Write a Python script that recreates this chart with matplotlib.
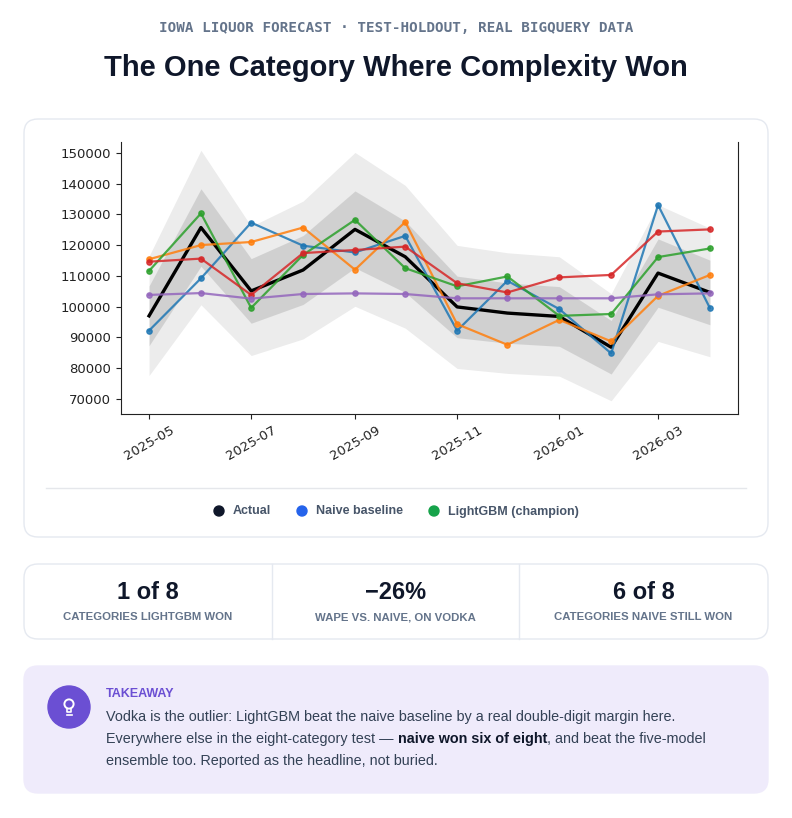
"""Iowa liquor forecast: vodka test-holdout chart."""

import matplotlib.pyplot as plt
import matplotlib.dates as mdates
import pandas as pd
from matplotlib.patches import FancyBboxPatch, Circle

months = ["2025-05", "2025-06", "2025-07", "2025-08", "2025-09", "2025-10",
          "2025-11", "2025-12", "2026-01", "2026-02", "2026-03", "2026-04"]

actual = [97000, 125700, 105100, 111900, 125100, 116200,
          99900, 97900, 96800, 86800, 110900, 104600]
naive = [92200, 109200, 127300, 119800, 117600, 123000,
         92200, 108400, 99200, 84800, 133000, 99500]
orange_model = [115400, 120000, 121000, 125700, 112000, 127500,
                94300, 87600, 95700, 88700, 103500, 110300]
lightgbm = [111600, 130300, 99600, 116800, 128200, 112500,
            106600, 109800, 97000, 97600, 116100, 118900]
red_model = [114600, 115600, 103800, 117400, 118400, 119500,
             107600, 104600, 109500, 110300, 124400, 125100]
purple_model = [103800, 104400, 102600, 104100, 104300, 104100,
                102700, 102700, 102700, 102700, 104000, 104300]

# interval bands around actual
inner_lo = [87300, 113100, 94600, 100700, 112600, 104600,
            89900, 88100, 87100, 78100, 99800, 94100]
inner_hi = [106700, 138300, 115600, 123100, 137600, 127800,
            109900, 107700, 106500, 95500, 122000, 115100]
outer_lo = [77600, 100600, 84100, 89500, 100100, 93000,
            79900, 78300, 77400, 69400, 88700, 83700]
outer_hi = [116400, 150800, 126100, 134300, 150100, 139400,
            119900, 117500, 116200, 104200, 133100, 125500]

legend_labels = ["Actual", "Naive baseline", "LightGBM (champion)"]
legend_colors = ["#0f172a", "#2563eb", "#16a34a"]

stat_values = ["1 of 8", "\u221226%", "6 of 8"]
stat_labels = ["CATEGORIES LIGHTGBM WON", "WAPE VS. NAIVE, ON VODKA",
               "CATEGORIES NAIVE STILL WON"]

W, H = 792, 818
SANS = ["Liberation Sans", "DejaVu Sans"]
INK = "#0f172a"
MUTED = "#64748b"
PURPLE = "#6b4fd3"

fig = plt.figure(figsize=(W / 100, H / 100), dpi=100)
fig.patch.set_facecolor("white")

# page canvas in pixel coordinates
bg = fig.add_axes([0, 0, 1, 1], zorder=0)
bg.set_xlim(0, W)
bg.set_ylim(H, 0)
bg.axis("off")


def card(x0, y0, x1, y1, face="white", edge="#e5e9f0", r=14):
    bg.add_patch(FancyBboxPatch((x0, y0), x1 - x0, y1 - y0,
                                boxstyle=f"round,pad=0,rounding_size={r}",
                                facecolor=face, edgecolor=edge, lw=1))


bg.text(W / 2, 28.5, "IOWA LIQUOR FORECAST \u00b7 TEST-HOLDOUT, REAL BIGQUERY DATA",
        ha="center", va="center", fontsize=10.3, fontweight="bold",
        family="DejaVu Sans Mono", color=MUTED)
bg.text(W / 2, 67.5, "The One Category Where Complexity Won", ha="center",
        va="center", fontsize=21, fontweight="bold", family=SANS, color=INK)

# chart card
card(24, 119, 768, 537)
bg.plot([46, 746], [488, 488], color="#e5e7eb", lw=1)
for x, lab, col in zip([219, 302, 434], legend_labels, legend_colors):
    bg.add_patch(Circle((x, 511), 5, color=col))
    bg.text(x + 14, 511.5, lab, ha="left", va="center", fontsize=9,
            fontweight="bold", family=SANS, color="#475569")

# stats strip
card(24, 564, 768, 639)
for x in (272, 519):
    bg.plot([x, x], [564, 639], color="#e5e9f0", lw=1)
for cx, val, lab in zip([148, 395.5, 643.5], stat_values, stat_labels):
    bg.text(cx, 592.5, val, ha="center", va="center", fontsize=17,
            fontweight="bold", family=SANS, color=INK)
    bg.text(cx, 617, lab, ha="center", va="center", fontsize=8.2,
            fontweight="bold", family=SANS, color=MUTED)

# takeaway box
card(24, 666, 768, 793, face="#efebfb", edge="#efebfb")
bg.add_patch(Circle((69, 707), 21, color=PURPLE))
bg.add_patch(Circle((69, 704), 4.6, facecolor="none", edgecolor="white", lw=1.4))
bg.plot([67, 67, 71, 71], [708.5, 711.5, 711.5, 708.5], color="white", lw=1.2)
bg.plot([66.5, 71.5], [714.5, 714.5], color="white", lw=1.2)
bg.text(106, 694, "TAKEAWAY", ha="left", va="center", fontsize=9,
        fontweight="bold", family=SANS, color=PURPLE)
body = dict(fontsize=10.35, family=SANS, color="#334155")
bg.text(106, 717.5, "Vodka is the outlier: LightGBM beat the naive baseline by a "
        "real double-digit margin here.", ha="left", va="center", **body)
t1 = bg.text(106, 739, "Everywhere else in the eight-category test \u2014 ",
             ha="left", va="center", **body)
t2 = bg.annotate("naive won six of eight", xy=(1, 0), xycoords=t1,
                 ha="left", va="bottom", fontweight="bold",
                 fontsize=10.35, family=SANS, color=INK)
bg.annotate(", and beat the five-model", xy=(1, 0), xycoords=t2,
            ha="left", va="bottom", **body)
bg.text(106, 760.5, "ensemble too. Reported as the headline, not buried.",
        ha="left", va="center", **body)

# the chart itself
ax = fig.add_axes([121 / W, 1 - 414 / H, (738 - 121) / W, (414 - 142) / H],
                  zorder=1)
ax.set_facecolor("none")
dates = pd.to_datetime(months)

ax.fill_between(dates, outer_lo, outer_hi, color="gray", alpha=0.15, lw=0)
ax.fill_between(dates, inner_lo, inner_hi, color="gray", alpha=0.25, lw=0)
ax.plot(dates, actual, color="black", lw=2.4, zorder=3)
for series, col in [(naive, "tab:blue"), (orange_model, "tab:orange"),
                    (lightgbm, "tab:green"), (red_model, "tab:red"),
                    (purple_model, "tab:purple")]:
    ax.plot(dates, series, color=col, lw=1.6, marker="o", ms=3.8,
            alpha=0.85, zorder=4)

ax.set_ylim(65100, 153500)
ax.set_yticks(range(70000, 150001, 10000))
ax.xaxis.set_major_locator(mdates.MonthLocator(bymonth=[1, 3, 5, 7, 9, 11]))
ax.xaxis.set_major_formatter(mdates.DateFormatter("%Y-%m"))
ax.tick_params(labelsize=9.5, colors="#222222")
plt.setp(ax.get_xticklabels(), rotation=30)
ax.spines["top"].set_visible(False)
for s in ("left", "bottom", "right"):
    ax.spines[s].set_color("#222222")

fig.savefig("out.png", dpi=100, facecolor="white")
